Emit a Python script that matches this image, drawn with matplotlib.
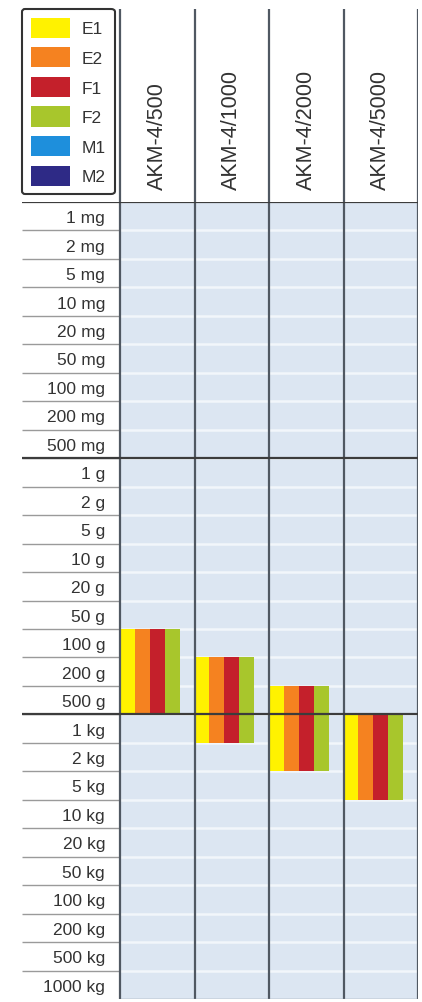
import matplotlib.pyplot as plt
from matplotlib.patches import Patch

# weight rows, top to bottom
weights = ['1 mg', '2 mg', '5 mg', '10 mg', '20 mg', '50 mg', '100 mg', '200 mg', '500 mg',
           '1 g', '2 g', '5 g', '10 g', '20 g', '50 g', '100 g', '200 g', '500 g',
           '1 kg', '2 kg', '5 kg', '10 kg', '20 kg', '50 kg', '100 kg', '200 kg', '500 kg', '1000 kg']
models = ['AKM-4/500', 'AKM-4/1000', 'AKM-4/2000', 'AKM-4/5000']
range_from = ['100 g', '200 g', '500 g', '1 kg']
range_to = ['500 g', '1 kg', '2 kg', '5 kg']
classes = ['E1', 'E2', 'F1', 'F2', 'M1', 'M2']
class_colors = ['#fff200', '#f58220', '#c4202b', '#a8c62c', '#1e8fdc', '#2e2a86']
# which classes each model covers
model_classes = ['E1', 'E2', 'F1', 'F2']

plt.rcParams['font.family'] = ['Liberation Sans', 'DejaVu Sans']
W, H = 422, 1003
fig = plt.figure(figsize=(W / 100, H / 100), dpi=100)

x_left, x_grid, x_right = 22, 120, 418
col_w = (x_right - x_grid) / len(models)
y_grid = 203
xmin = -(x_grid - x_left) / col_w

# ---- main grid ----
ax = fig.add_axes([x_left / W, 3 / H, (x_right - x_left) / W, (1000 - y_grid) / H])
ax.set_xlim(xmin, len(models))
ax.set_ylim(len(weights), 0)
ax.axis('off')

ax.axvspan(0, len(models), color='#dce6f2', zorder=0)
rows = range(1, len(weights))
ax.hlines(rows, xmin, 0, color='#9a9a9a', lw=1.0, zorder=1)
ax.hlines(rows, 0, len(models), color='#f2f6fb', lw=1.8, zorder=1)

for i, w in enumerate(weights):
    ax.text(-0.2, i + 0.55, w, ha='right', va='center', fontsize=12.5, color='#333333')

# bars: one stripe per accuracy class, from first to last weight row
bw = 0.2
for m in range(len(models)):
    r0 = weights.index(range_from[m])
    r1 = weights.index(range_to[m]) + 1
    for k, c in enumerate(model_classes):
        ax.bar(m + k * bw, r1 - r0, width=bw, bottom=r0, align='edge',
               color=class_colors[classes.index(c)], linewidth=0, zorder=2)

ax.hlines([0, 9, 18], xmin, len(models), color='#3c3c3c', lw=1.6, zorder=4)
ax.hlines([len(weights)], 0, len(models), color='#8a94a0', lw=1.0, zorder=4)
ax.vlines(range(len(models) + 1), 0, len(weights), color='#505862', lw=1.6, zorder=3)

# ---- header ----
hx = fig.add_axes([x_left / W, (H - y_grid) / H, (x_right - x_left) / W, y_grid / H])
hx.set_xlim(xmin, len(models))
hx.set_ylim(0, 1)
hx.axis('off')
hx.vlines(range(len(models) + 1), 0, 0.95, color='#505862', lw=1.6)
for m, name in enumerate(models):
    hx.text(m + 0.5, 0.065, name, rotation=90, ha='center', va='bottom',
            fontsize=15.5, color='#333333')

handles = [Patch(facecolor=c, edgecolor='none') for c in class_colors]
leg = fig.legend(handles, classes, loc='upper left', bbox_to_anchor=(x_left / W, 1 - 10 / H),
                 fontsize=12.5, handlelength=2.25, handleheight=1.4, labelspacing=0.55,
                 handletextpad=0.7, borderpad=0.5, borderaxespad=0, fancybox=True,
                 framealpha=1, labelcolor='#333333')
leg.get_frame().set_edgecolor('#333333')
leg.get_frame().set_linewidth(1.5)

fig.savefig('out.png', dpi=100)
